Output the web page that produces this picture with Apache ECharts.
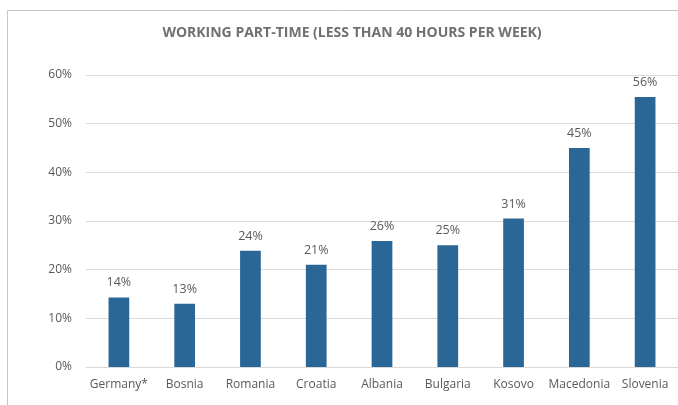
<!DOCTYPE html>
<html>
<head>
<meta charset="utf-8">
<script src="https://cdn.jsdelivr.net/npm/echarts@6/dist/echarts.min.js"></script>
<style>
html,body{margin:0;padding:0;background:#fff;}
#chart{width:678px;height:405px;}
</style>
</head>
<body>
<div id="chart"></div>
<script>
// Share of workers on part-time contracts, by country
const countries = ['Germany*', 'Bosnia', 'Romania', 'Croatia', 'Albania', 'Bulgaria', 'Kosovo', 'Macedonia', 'Slovenia'];
const partTimeShare = [14.3, 13.0, 23.9, 21.0, 25.9, 25.0, 30.5, 45.0, 55.5];
const yTicks = [0, 10, 20, 30, 40, 50, 60];

const textGray = '#595959';
const chart = echarts.init(document.getElementById('chart'));
chart.setOption({
  animation: false,
  backgroundColor: '#fff',
  title: {
    text: 'WORKING PART-TIME (LESS THAN 40 HOURS PER WEEK)',
    left: 347, top: 21, textAlign: 'center',
    textStyle: { fontFamily: 'Open Sans', fontWeight: 'bold', fontSize: 14, color: '#707070' }
  },
  graphic: [{
    type: 'rect', silent: true,
    shape: { x: 7.5, y: 10.5, width: 700, height: 420 },
    style: { fill: 'none', stroke: '#c6c6c6', lineWidth: 1 }
  }],
  grid: { left: 86, top: 75, width: 600, height: 292 },
  xAxis: {
    type: 'category',
    data: countries,
    axisTick: { show: false },
    axisLine: { lineStyle: { color: '#d9d9d9', width: 1 } },
    axisLabel: { interval: 0, color: textGray, fontFamily: 'Open Sans', fontSize: 12, margin: 12 }
  },
  yAxis: {
    type: 'value',
    min: yTicks[0], max: yTicks[yTicks.length - 1], interval: 10,
    axisLine: { show: false },
    axisTick: { show: false },
    splitLine: { lineStyle: { color: '#d9d9d9', width: 1 } },
    axisLabel: { color: textGray, fontFamily: 'Open Sans', fontSize: 12, margin: 14, formatter: v => v + '%' }
  },
  series: [{
    type: 'bar',
    data: partTimeShare,
    barWidth: '31.5%',
    itemStyle: { color: '#2a6796' },
    label: {
      show: true, position: 'top', distance: 8,
      color: textGray, fontFamily: 'Open Sans', fontSize: 12.5,
      formatter: p => Math.round(p.value) + '%'
    }
  }]
});
</script>
</body>
</html>
